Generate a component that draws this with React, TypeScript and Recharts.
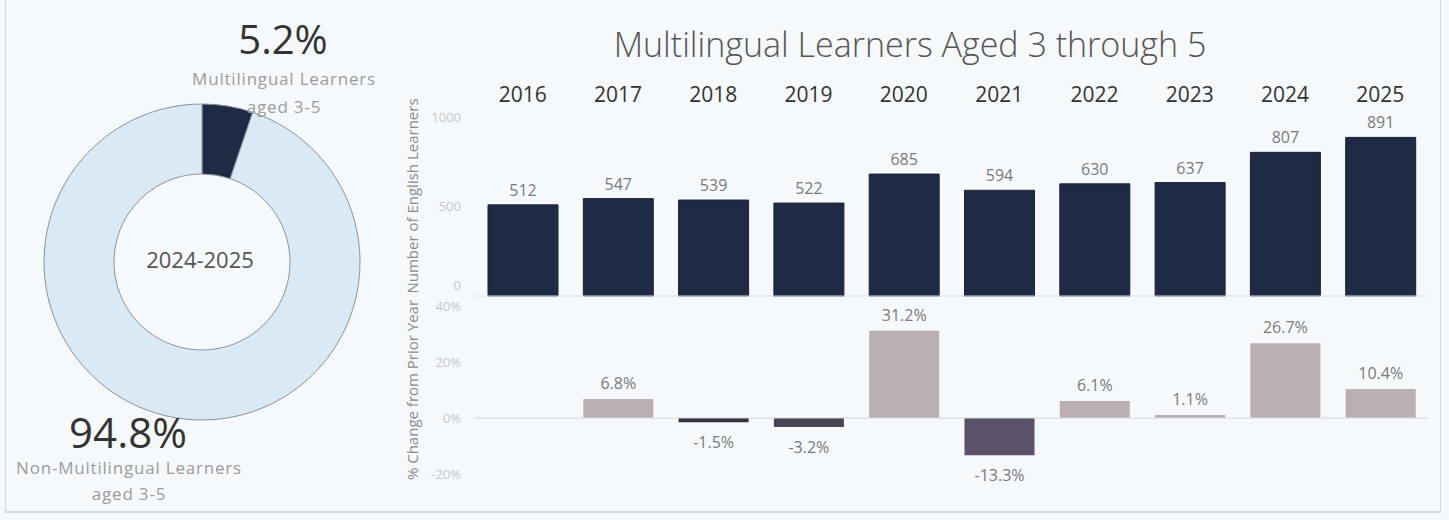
import React from 'react'
import { BarChart, Bar, XAxis, YAxis, ReferenceLine, LabelList, Cell, PieChart, Pie, Label } from 'recharts'

const years = ['2016', '2017', '2018', '2019', '2020', '2021', '2022', '2023', '2024', '2025']
const learners = [512, 547, 539, 522, 685, 594, 630, 637, 807, 891]
const pctChange: (number | null)[] = [null, 6.8, -1.5, -3.2, 31.2, -13.3, 6.1, 1.1, 26.7, 10.4]
const countTicks = [0, 500, 1000]
const pctTicks = [-20, 0, 20, 40]

const shareNames = ['Multilingual Learners aged 3-5', 'Non-Multilingual Learners aged 3-5']
const shareValues = [5.2, 94.8]
const schoolYear = '2024-2025'

const W = 1449
const H = 520
const FONT = '"Open Sans", "Noto Sans", sans-serif'

const countData = years.map((y, i) => ({ year: y, count: learners[i] }))
const pctData = years.map((y, i) => ({ year: y, pct: pctChange[i] }))
const pieData = shareNames.map((n, i) => ({ name: n, value: shareValues[i] }))

const pieColors = ['#1f2a44', '#d9eaf6']

const changeColor = (v: number) => {
  if (v >= 0) return '#b9afb4'
  if (v > -2) return '#34323f'
  if (v > -5) return '#4b4456'
  return '#5b526a'
}

const PctLabel = (props: any) => {
  const { x, y, width, height, value } = props
  if (value == null) return null
  const neg = value < 0
  const top = Math.min(y, y + height)
  const bottom = Math.max(y, y + height)
  return (
    <text
      x={x + width / 2}
      y={neg ? bottom + 26 : top - 10}
      textAnchor="middle"
      fill="#7a7a7a"
      fontSize={16}
      fontFamily={FONT}
    >
      {`${value.toFixed(1)}%`}
    </text>
  )
}

// Tableau nudges the bottom tick of the count axis up, off the baseline
const CountTick = (props: any) => {
  const { x, y, payload } = props
  const dy = payload.value === 0 ? -6 : 4
  return (
    <text x={x} y={y + dy} textAnchor="end" fill="#c4c7cb" fontSize={13} fontFamily={FONT}>
      {payload.value}
    </text>
  )
}

const abs = (left: number, top: number): React.CSSProperties => ({
  position: 'absolute',
  left,
  top,
  transform: 'translate(-50%, -50%)',
  whiteSpace: 'nowrap',
  fontFamily: FONT,
})

const note: React.CSSProperties = { fontSize: 17, color: '#9c9c9c', letterSpacing: 0.8 }

const App = () => {
  return (
    <div style={{ position: 'absolute', left: 0, top: 0, width: W, height: H, background: '#f5f9fc', overflow: 'hidden' }}>
      <div style={{ position: 'absolute', left: 5, top: 0, width: 1434, height: 511, borderLeft: '1px solid #d5d9de', borderRight: '1px solid #d5d9de', borderBottom: '2px solid #d5d9de' }} />

      {/* donut */}
      <div style={{ position: 'absolute', left: 0, top: 0 }}>
        <PieChart width={400} height={520}>
          <Pie
            data={pieData}
            dataKey="value"
            cx={197}
            cy={257}
            innerRadius={88}
            outerRadius={158}
            startAngle={90}
            endAngle={-270}
            stroke="#8c9198"
            strokeWidth={1}
            isAnimationActive={false}
          >
            {pieData.map((d, i) => (
              <Cell key={d.name} fill={pieColors[i]} />
            ))}
            <Label value={schoolYear} position="center" fill="#555" fontSize={22} fontFamily={FONT} />
          </Pie>
        </PieChart>
      </div>
      <div style={{ ...abs(283, 38), fontSize: 40, color: '#333' }}>{`${shareValues[0]}%`}</div>
      <div style={{ ...abs(284, 78), ...note }}>Multilingual Learners</div>
      <div style={{ ...abs(284, 106), ...note }}>aged 3-5</div>
      <div style={{ ...abs(128, 431), fontSize: 42, color: '#333' }}>{`${shareValues[1]}%`}</div>
      <div style={{ ...abs(129, 467), ...note }}>Non-Multilingual Learners</div>
      <div style={{ ...abs(129, 493), ...note }}>aged 3-5</div>

      {/* title */}
      <div style={{ ...abs(910, 44), fontSize: 34, fontWeight: 300, color: '#555' }}>Multilingual Learners Aged 3 through 5</div>

      {/* axis titles */}
      <div style={{ ...abs(412, 196), transform: 'translate(-50%, -50%) rotate(-90deg)', fontSize: 15, color: '#8a8a8a' }}>Number of English Learners</div>
      <div style={{ ...abs(412, 390), transform: 'translate(-50%, -50%) rotate(-90deg)', fontSize: 15, color: '#8a8a8a' }}>% Change from Prior Year</div>

      {/* counts */}
      <div style={{ position: 'absolute', left: 0, top: 0 }}>
        <BarChart width={W} height={H} data={countData} margin={{ top: 78, right: 21, bottom: 224, left: 415 }}>
          <XAxis
            dataKey="year"
            orientation="top"
            height={40}
            axisLine={false}
            tickLine={false}
            tickSize={0}
            tickMargin={16}
            tick={{ fill: '#333', fontSize: 21, fontWeight: 500, fontFamily: FONT }}
            interval={0}
          />
          <YAxis
            width={60}
            domain={[0, 1000]}
            ticks={countTicks}
            axisLine={false}
            tickLine={false}
            tickMargin={8}
            tick={<CountTick />}
          />
          <ReferenceLine y={0} stroke="#dadde1" strokeWidth={1} />
          <Bar dataKey="count" fill="#1f2b45" stroke="#1a2236" barSize={70} isAnimationActive={false}>
            <LabelList dataKey="count" position="top" offset={9} fill="#7a7a7a" fontSize={16} fontFamily={FONT} />
          </Bar>
        </BarChart>
      </div>

      {/* change */}
      <div style={{ position: 'absolute', left: 0, top: 0 }}>
        <BarChart width={W} height={H} data={pctData} margin={{ top: 306, right: 21, bottom: 46, left: 415 }}>
          <XAxis dataKey="year" hide />
          <YAxis
            width={60}
            domain={[-20, 40]}
            ticks={pctTicks}
            axisLine={false}
            tickLine={false}
            tickMargin={8}
            tickFormatter={(v: number) => `${v}%`}
            tick={{ fill: '#c4c7cb', fontSize: 13, fontFamily: FONT }}
          />
          <ReferenceLine y={0} stroke="#d3d6da" strokeWidth={1} />
          <Bar dataKey="pct" barSize={70} isAnimationActive={false}>
            {pctData.map((d) => (
              <Cell key={d.year} fill={changeColor(d.pct ?? 0)} />
            ))}
            <LabelList dataKey="pct" content={PctLabel} />
          </Bar>
        </BarChart>
      </div>
    </div>
  )
}

export default App
